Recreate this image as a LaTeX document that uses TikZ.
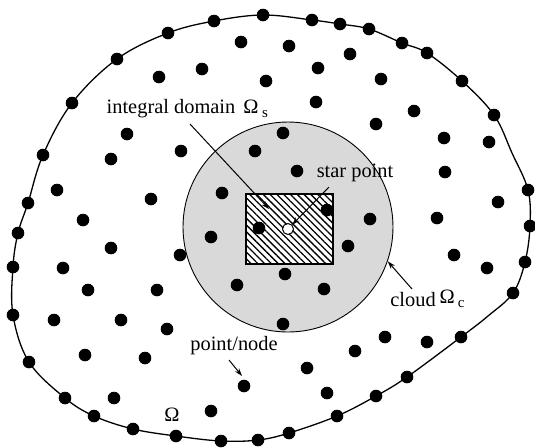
\documentclass[tikz,border=0pt]{standalone}
\usepackage{fontspec}
\setmainfont{Liberation Serif}
\usetikzlibrary{patterns.meta,arrows.meta}
\definecolor{cloudgray}{RGB}{217,217,217}
\begin{document}
\begin{tikzpicture}[x=0.5pt,y=-0.5pt,
  dot/.style={circle,fill=black,inner sep=0pt,minimum size=6.3pt},
  lbl/.style={inner sep=0pt,font=\fontsize{10.2}{12}\selectfont},
  arr/.style={-{Stealth[length=4pt,width=2.6pt]},line width=0.5pt}]
\useasboundingbox (0,0) rectangle (535,447);
% boundary
\draw[line width=0.65pt] plot[smooth cycle, tension=0.6] coordinates {
 (263,15) (312,20) (340,24) (369,29) (402,43) (427,53) (462,81) (494,115)
 (512,153) (528,190) (530,226) (525,262) (513,293) (488,316) (461,337) (407,377) (376,396)
 (337,416) (289,433) (258,440) (221,441) (176,436) (133,429) (94,416)
 (65,398) (29,362) (13,315) (13,267) (18,233) (28,203) (43,155) (72,103)
 (117,59) (168,33) (214,21)};
% cloud
\node[circle,draw,fill=cloudgray,minimum size=105pt,inner sep=0pt,line width=0.45pt] (cloud) at (288,227) {};
% integral domain
\node[draw,line width=1pt,minimum width=43.5pt,minimum height=35pt,inner sep=0pt,
  preaction={fill=white},pattern={Lines[angle=-45,distance=2.4pt,line width=0.65pt]}] (dom) at (289.5,229) {};
\node[circle,draw,fill=white,minimum size=5.5pt,inner sep=0pt,line width=0.5pt] (star) at (288,229) {};
% boundary points
\foreach \p [count=\i] in {(263,15),(312,20),(340,24),(369,29),(402,43),(427,53),(462,81),(494,115),
 (528,190),(530,226),(525,262),(513,293),(461,337),(407,377),(376,396),
 (337,416),(289,433),(258,440),(221,441),(176,436),(133,429),(94,416),
 (65,398),(29,362),(13,315),(13,267),(18,233),(28,203),(43,155),(72,103),
 (117,59),(168,33),(214,21)}
  \node[dot] (b\i) at \p {};
% interior points
\foreach \p [count=\i] in {(241,42),(202,69),(159,77),(266,81),(127,134),(181,151),(111,159),(255,151),
 (57,190),(151,199),(222,193),(83,220),
 (289,46),(350,54),(318,68),(381,79),(316,102),(414,111),(376,124),(283,133),(444,138),(489,142),
 (297,171),(445,172),(498,202),(327,210),(370,219),(437,218),
 (259,228),(211,237),(348,246),(285,274),(237,285),(324,289),(180,255),
 (111,248),(63,268),(88,290),(157,290),(54,320),(121,320),(167,329),(85,355),(145,358),
 (244,386),(114,398),(211,411),
 (454,255),(487,268),(283,324),(385,337),(427,342),(355,351),(307,368),(327,393)}
  \node[dot] (d\i) at \p {};
% labels
\node[lbl,anchor=base] (intlab) at (171,113) {integral domain};
\node[lbl,anchor=base west] (omegas) at (243,113) {Ω\hspace{1.8pt}\raisebox{-2pt}{\fontsize{7.5}{8}\selectfont s}};
\node[lbl,anchor=base] (starlab) at (355,177) {star point};
\node[lbl,anchor=base west] (cloudlab) at (390,306) {cloud\hspace{2pt}\raisebox{1.5pt}{Ω}\hspace{1.5pt}\raisebox{-0.5pt}{\fontsize{7.5}{8}\selectfont c}};
\node[lbl,anchor=base west] (ptlab) at (190,350) {point/node};
\node[lbl,anchor=base west] (omega) at (164,421) {Ω};
% connectors
\coordinate (ia) at (190,124);
\coordinate (ib) at (269,209);
\coordinate (sa) at (329,187);
\coordinate (ca) at (412,289);
\coordinate (pa) at (229,360);
\coordinate (pb) at (242,376);
\draw[arr] (ia) -- (ib);
\draw[arr] (sa) -- (star);
\draw[arr] (ca) -- (cloud.-19);
\draw[arr] (pa) -- (pb);
\end{tikzpicture}
\end{document}
